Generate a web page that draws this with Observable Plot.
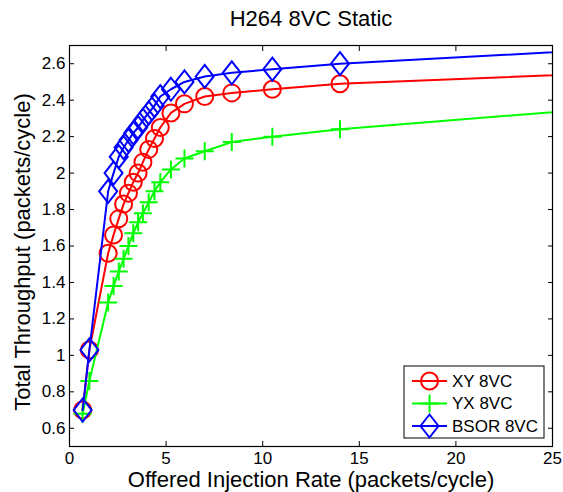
<!DOCTYPE html>
<html>
<head>
<meta charset="utf-8">
<script src="https://cdn.jsdelivr.net/npm/d3@7"></script>
<script src="https://cdn.jsdelivr.net/npm/@observablehq/plot@0.6"></script>
<style>
  html, body { margin: 0; padding: 0; background: #fff; }
  #chart svg { display: block; }
</style>
</head>
<body>
<div id="chart"></div>
<script>
// ---- data ----
const title = "H264 8VC Static";
const xLabel = "Offered Injection Rate (packets/cycle)";
const yLabel = "Total Throughput (packets/cycle)";
const seriesNames = ["XY 8VC", "YX 8VC", "BSOR 8VC"];
const seriesColors = ["#ff0000", "#00ff00", "#0000ff"];
const rate = [0.68, 1.03, 2.0, 2.28, 2.55, 2.8, 3.05, 3.3, 3.55, 3.8, 4.1, 4.4, 4.7, 5.25, 5.95, 7.0, 8.4, 10.5, 14.0, 28.0];
const xyVals   = [0.70, 1.03, 1.56, 1.66, 1.75, 1.83, 1.89, 1.95, 2.00, 2.06, 2.13, 2.19, 2.25, 2.33, 2.38, 2.42, 2.44, 2.46, 2.49, 2.55];
const yxVals   = [0.68, 0.86, 1.29, 1.38, 1.46, 1.53, 1.60, 1.67, 1.73, 1.78, 1.84, 1.90, 1.95, 2.02, 2.08, 2.12, 2.17, 2.20, 2.24, 2.36];
const bsorVals = [0.70, 1.03, 1.90, 2.00, 2.09, 2.14, 2.18, 2.22, 2.25, 2.29, 2.33, 2.37, 2.42, 2.46, 2.50, 2.53, 2.55, 2.57, 2.60, 2.68];
const xTicks = [0, 5, 10, 15, 20, 25];
const yTicks = [0.6, 0.8, 1, 1.2, 1.4, 1.6, 1.8, 2, 2.2, 2.4, 2.6];
const xDomain = [0, 25];
const yDomain = [0.5, 2.7];

// ---- marker symbols (MATLAB-like) ----
const symCircle = { draw(ctx) { const r = 8.5; ctx.moveTo(r, 0); ctx.arc(0, 0, r, 0, 2 * Math.PI); } };
const symPlus = { draw(ctx) { const h = 9; ctx.moveTo(-h, 0); ctx.lineTo(h, 0); ctx.moveTo(0, -h); ctx.lineTo(0, h); } };
const symDiamond = { draw(ctx) { const w = 9, h = 11.5; ctx.moveTo(0, -h); ctx.lineTo(w, 0); ctx.lineTo(0, h); ctx.lineTo(-w, 0); ctx.closePath(); } };
const symbols = [symCircle, symPlus, symDiamond];

const seriesVals = [xyVals, yxVals, bsorVals];
const table = [];
seriesNames.forEach((name, s) => {
  rate.forEach((r, i) => table.push({ series: name, s, rate: r, value: seriesVals[s][i] }));
});

const font = "'Liberation Sans', Arial, Helvetica, sans-serif";

function legendMark(index, scales, values, dim) {
  const g = d3.create("svg:g").attr("font-family", font).attr("text-anchor", "start");
  const bw = 140, bh = 72;
  const right = dim.width - dim.marginRight - 8;
  const bottom = dim.height - dim.marginBottom - 8;
  const x0 = right - bw, y0 = bottom - bh;
  g.append("rect").attr("x", x0).attr("y", y0).attr("width", bw).attr("height", bh)
    .attr("fill", "white").attr("stroke", "black").attr("stroke-width", 1);
  seriesNames.forEach((name, s) => {
    const cy = y0 + 15 + s * 22.5;
    const row = g.append("g");
    row.append("line").attr("x1", x0 + 8).attr("x2", x0 + 43).attr("y1", cy).attr("y2", cy)
      .attr("stroke", seriesColors[s]).attr("stroke-width", 2);
    const p = d3.path();
    symbols[s].draw(p);
    row.append("path").attr("d", p.toString()).attr("transform", `translate(${x0 + 25.5},${cy})`)
      .attr("fill", "none").attr("stroke", seriesColors[s]).attr("stroke-width", 2);
    row.append("text").attr("x", x0 + 48).attr("y", cy).attr("dy", "0.35em")
      .attr("text-anchor", "start")
      .attr("font-size", 17).attr("fill", "black").text(name);
  });
  return g.node();
}

const marks = [];
seriesNames.forEach((name, s) => {
  const data = table.filter(d => d.s === s);
  marks.push(Plot.line(data, { x: "rate", y: "value", stroke: seriesColors[s], strokeWidth: 2, clip: true }));
  marks.push(Plot.dot(data, { x: "rate", y: "value", stroke: seriesColors[s], strokeWidth: 2, fill: "none", symbol: () => symbols[s], r: 5, clip: true }));
});

const chart = Plot.plot({
  width: 563,
  height: 492,
  marginLeft: 69,
  marginRight: 11,
  marginTop: 45,
  marginBottom: 46,
  style: { fontFamily: font, background: "white", color: "black" },
  x: { domain: xDomain, ticks: xTicks, label: null },
  y: { domain: yDomain, ticks: yTicks, label: null },
  symbol: { type: "identity" },
  marks: [
    ...marks,
    Plot.frame({ stroke: "black", strokeWidth: 1.2 }),
    Plot.axisX({ ticks: xTicks, anchor: "bottom", tickSize: -5, text: null, stroke: "black" }),
    Plot.axisX({ ticks: xTicks, anchor: "top", tickSize: -5, text: null, stroke: "black" }),
    Plot.axisY({ ticks: yTicks, anchor: "left", tickSize: -5, text: null, stroke: "black" }),
    Plot.axisY({ ticks: yTicks, anchor: "right", tickSize: -5, text: null, stroke: "black" }),
    Plot.axisX({ ticks: xTicks, anchor: "bottom", tickSize: 0, tickPadding: 5, fontSize: 17, label: null, fill: "black" }),
    Plot.axisY({ ticks: yTicks, anchor: "left", tickSize: 0, tickPadding: 4, fontSize: 17, label: null, fill: "black", tickFormat: d => String(d) }),
    Plot.text([title], { frameAnchor: "top", dy: -27, lineAnchor: "middle", textAnchor: "middle", fontSize: 22, fill: "black" }),
    Plot.text([xLabel], { frameAnchor: "bottom", dy: 33, lineAnchor: "middle", textAnchor: "middle", fontSize: 22, fill: "black" }),
    Plot.text([yLabel], { frameAnchor: "left", dx: -47, dy: 6, rotate: -90, lineAnchor: "middle", textAnchor: "middle", fontSize: 22, fill: "black" }),
    legendMark
  ]
});
document.getElementById("chart").appendChild(chart);
</script>
</body>
</html>
